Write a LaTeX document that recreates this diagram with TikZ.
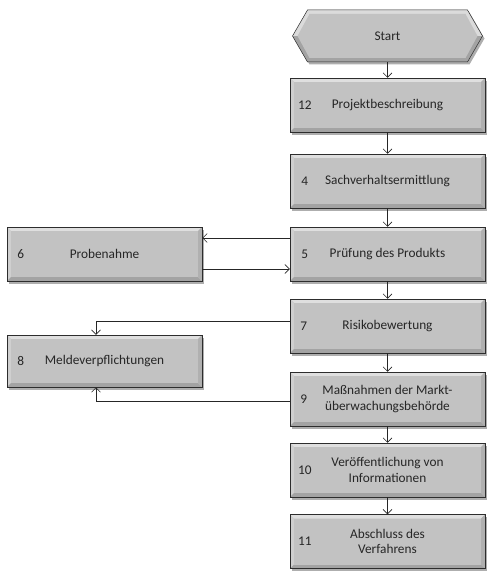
\documentclass[tikz,border=0pt]{standalone}
\usepackage{fontspec}
\setmainfont{Carlito}
\usetikzlibrary{arrows.meta,shapes.symbols,shadows,calc}
\begin{document}
\begin{tikzpicture}[x=1pt,y=-1pt,
  bevel/.style={
    path picture={
      \coordinate (ppsw) at (path picture bounding box.south west);
      \coordinate (ppne) at (path picture bounding box.north east);
      \coordinate (ppnw) at (path picture bounding box.north west);
      \coordinate (ppse) at (path picture bounding box.south east);
      \fill[gray!25] (ppnw) -- (ppne) -- ($(ppne)+(-4pt,-4pt)$) -- ($(ppnw)+(4pt,-4pt)$) -- cycle;
      \fill[gray!38] (ppnw) -- (ppsw) -- ($(ppsw)+(4pt,4pt)$) -- ($(ppnw)+(4pt,-4pt)$) -- cycle;
      \fill[gray!72] (ppsw) -- (ppse) -- ($(ppse)+(-4pt,4pt)$) -- ($(ppsw)+(4pt,4pt)$) -- cycle;
      \fill[gray!62] (ppse) -- (ppne) -- ($(ppne)+(-4pt,-4pt)$) -- ($(ppse)+(-4pt,4pt)$) -- cycle;
      \fill[gray!48] ($(ppsw)+(4pt,4pt)$) rectangle ($(ppne)+(-4pt,-4pt)$);
    }},
  box/.style={rectangle, minimum width=195pt, minimum height=54pt, fill=gray!48,
    draw=gray!35!black, line width=0.5pt, align=center, inner sep=2pt,
    font=\fontsize{13.3}{15.5}\selectfont, text=black!85,
    drop shadow={shadow xshift=2pt,shadow yshift=-2.5pt,opacity=0.45,fill=black!70},
    bevel},
  startbox/.style={signal, signal to=west and east, signal pointer angle=120,
    minimum width=190pt, minimum height=52pt, fill=gray!48, draw=gray!35!black,
    line width=0.5pt, font=\fontsize{13.3}{15.5}\selectfont, text=black!85,
    drop shadow={shadow xshift=2pt,shadow yshift=-2.5pt,opacity=0.45,fill=black!70},
    path picture={
      \coordinate (qw) at (path picture bounding box.west);
      \coordinate (qe) at (path picture bounding box.east);
      \coordinate (qnw) at (path picture bounding box.north west);
      \coordinate (qne) at (path picture bounding box.north east);
      \coordinate (qsw) at (path picture bounding box.south west);
      \coordinate (qse) at (path picture bounding box.south east);
      \fill[gray!72] (qsw) rectangle ($(qe)$);
      \fill[gray!28] (qnw) rectangle ($(qe)$);
      \fill[gray!48] ($(qw)+(5pt,0)$) -- ($(qnw)+(17pt,-4pt)$) -- ($(qne)+(-17pt,-4pt)$) -- ($(qe)+(-5pt,0)$) -- ($(qse)+(-17pt,4pt)$) -- ($(qsw)+(17pt,4pt)$) -- cycle;
    }},
  num/.style={font=\fontsize{13.3}{15.5}\selectfont, text=black!85, inner sep=0pt},
  arr/.style={-{Straight Barb[length=4.5pt,width=9pt]}, line width=0.6pt, black!85}
]
\useasboundingbox (0,0) rectangle (498,586);

\node[startbox] (start) at (387.5,36) {Start};
\node[box] (b12) at (387.5,105) {Projektbeschreibung};
\node[box] (b4)  at (387.5,181) {Sachverhaltsermittlung};
\node[box] (b5)  at (387.5,254) {Prüfung des Produkts};
\node[box] (b7)  at (387.5,326) {Risikobewertung};
\node[box] (b9)  at (387.5,399) {Maßnahmen der Markt-\\überwachungsbehörde};
\node[box] (b10) at (387.5,470) {Veröffentlichung von\\Informationen};
\node[box] (b11) at (387.5,541.5) {Abschluss des\\Verfahrens};
\node[box] (b6)  at (104.5,254) {Probenahme};
\node[box, minimum height=52pt] (b8) at (104.5,361) {Meldeverpflichtungen};

\node[num] (n12) at ([xshift=15pt]b12.west) {12};
\node[num] (n4)  at ([xshift=15pt]b4.west) {4};
\node[num] (n5)  at ([xshift=15pt]b5.west) {5};
\node[num] (n7)  at ([xshift=14pt]b7.west) {7};
\node[num] (n9)  at ([xshift=14pt]b9.west) {9};
\node[num] (n10) at ([xshift=15pt]b10.west) {10};
\node[num] (n11) at ([xshift=15pt]b11.west) {11};
\node[num] (n6)  at ([xshift=14pt]b6.west) {6};
\node[num] (n8)  at ([xshift=14pt]b8.west) {8};

\draw[arr] (start.south) -- (b12.north);
\draw[arr] (b12.south) -- (b4.north);
\draw[arr] (b4.south) -- (b5.north);
\draw[arr] (b5.south) -- (b7.north);
\draw[arr] (b7.south) -- (b9.north);
\draw[arr] (b9.south) -- (b10.north);
\draw[arr] (b10.south) -- (b11.north);

\draw[arr] ([yshift=16pt]b5.west) -- ([yshift=16pt]b6.east);
\draw[arr] ([yshift=-15pt]b6.east) -- ([yshift=-15pt]b5.west);
\draw[arr] ([yshift=5pt]b7.west) -| ([xshift=-8.5pt]b8.north);
\draw[arr] ([yshift=-2pt]b9.west) -| ([xshift=-8.5pt]b8.south);
\end{tikzpicture}
\end{document}
